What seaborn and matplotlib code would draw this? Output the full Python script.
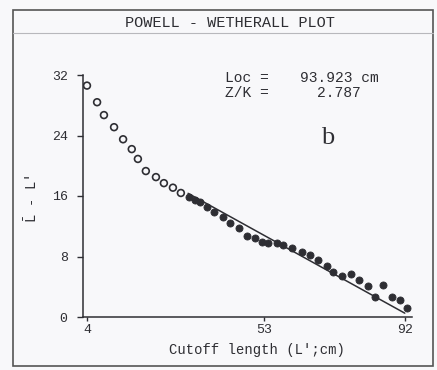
import matplotlib
matplotlib.use("Agg")
import matplotlib.pyplot as plt
import seaborn as sns
import pandas as pd

# ---- data ----
open_x = [4.0, 6.8, 8.7, 11.5, 14.0, 16.4, 18.1, 20.3, 23.1, 25.3, 27.8, 30.0]
open_y = [30.6, 28.4, 26.7, 25.1, 23.5, 22.2, 20.9, 19.3, 18.5, 17.7, 17.1, 16.4]

filled_x = [32.3, 33.9, 35.3, 37.2, 39.2, 41.7, 43.6, 46.1, 48.3, 50.5, 52.5, 54.1,
            56.6, 58.3, 60.8, 63.6, 65.8, 68.0, 70.5, 72.1, 74.6, 77.1, 79.3, 81.8,
            83.8, 86.0, 88.5, 90.7, 92.6]
filled_y = [15.9, 15.5, 15.2, 14.6, 13.9, 13.2, 12.4, 11.8, 10.7, 10.4, 9.9, 9.8,
            9.8, 9.5, 9.1, 8.6, 8.2, 7.5, 6.7, 6.0, 5.4, 5.7, 4.9, 4.1,
            2.6, 4.2, 2.6, 2.2, 1.2]

loc_cm = 93.923
z_over_k = 2.787
fit_x = [32.0, 92.0]
x_ticks = [4, 53, 92]
y_ticks = [0, 8, 16, 24, 32]

# regression line implied by Loc and Z/K
slope = -1.0 / (1.0 + z_over_k)
fit_y = [slope * (v - loc_cm) for v in fit_x]

ink = "#2e2e33"
bg = "#f8f8fa"
mono = ["Liberation Mono", "DejaVu Sans Mono"]

sns.set_theme(style="white")
plt.rcParams["font.family"] = mono
plt.rcParams["mathtext.fontset"] = "custom"
plt.rcParams["mathtext.rm"] = "Liberation Mono"
plt.rcParams["mathtext.it"] = "Liberation Mono"

fig = plt.figure(figsize=(4.37, 3.70), dpi=100)
fig.patch.set_facecolor(bg)

W, H = 437.0, 370.0
def fx(px):
    return px / W
def fy(py):
    return 1 - py / H

# outer frame and title separator
fig.add_artist(plt.Rectangle((fx(13), fy(366)), 420 / W, 356 / H,
                             transform=fig.transFigure, fill=False,
                             edgecolor="#555555", linewidth=1.2))
fig.add_artist(plt.Line2D([fx(13), fx(433)], [fy(33), fy(33)],
                          transform=fig.transFigure, color="#b8b8bc", linewidth=0.8))
fig.text(fx(230), fy(23), "POWELL - WETHERALL PLOT", ha="center", va="center",
         fontsize=11, color=ink, family=mono)

ax = fig.add_axes([fx(83), fy(317), 329 / W, 242 / H])
ax.set_facecolor(bg)

df_open = pd.DataFrame({"x": open_x, "y": open_y})
df_fill = pd.DataFrame({"x": filled_x, "y": filled_y})
df_fit = pd.DataFrame({"x": fit_x, "y": fit_y})

sns.lineplot(data=df_fit, x="x", y="y", ax=ax, color=ink, linewidth=1.1)
sns.scatterplot(data=df_open, x="x", y="y", ax=ax, marker="o", s=24,
                facecolor="none", edgecolor=ink, linewidth=1.2)
sns.scatterplot(data=df_fill, x="x", y="y", ax=ax, marker="o", s=26,
                color=ink, edgecolor=ink, linewidth=0.6)

ax.set_xlim(2.9, 94.0)
ax.set_ylim(0, 32)
ax.set_xticks(x_ticks)
ax.set_yticks(y_ticks)
ax.set_xticklabels([str(t) for t in x_ticks])
ax.set_yticklabels([str(t) for t in y_ticks])
for s in ["top", "right"]:
    ax.spines[s].set_visible(False)
for s in ["left", "bottom"]:
    ax.spines[s].set_color(ink)
    ax.spines[s].set_linewidth(1.1)
ax.tick_params(axis="y", direction="out", length=4, width=1, color=ink,
               labelsize=9.5, labelcolor=ink, pad=7, left=True)
ax.tick_params(axis="x", direction="out", length=3, width=1, color=ink,
               labelsize=9.5, labelcolor=ink, pad=2, bottom=True)

ax.set_xlabel("Cutoff length (L';cm)", fontsize=10, color=ink)
ax.xaxis.set_label_coords((257 - 83) / 329, -(343 - 317) / 242)
ax.set_ylabel("$\\bar{\\mathrm{L}}$ - L'", fontsize=10, color=ink)
ax.yaxis.set_label_coords(-(83 - 40) / 329, (317 - 199) / 242)

# annotation block (pieces placed to match the wide printer spacing)
def at(px, py):
    return ((px - 83) / 329, (317 - py) / 242)

ax.text(*at(225, 78), "Loc =", transform=ax.transAxes, fontsize=10.5, color=ink,
        va="center", ha="left")
ax.text(*at(300, 78), "93.923 cm", transform=ax.transAxes, fontsize=10.5, color=ink,
        va="center", ha="left")
ax.text(*at(225, 93), "Z/K =", transform=ax.transAxes, fontsize=10.5, color=ink,
        va="center", ha="left")
ax.text(*at(317, 93), "2.787", transform=ax.transAxes, fontsize=10.5, color=ink,
        va="center", ha="left")
ax.text(*at(328, 138), "b", transform=ax.transAxes, fontsize=19, color=ink,
        va="center", ha="center", family=["Liberation Serif", "DejaVu Serif"])

fig.savefig("out.png", dpi=100, facecolor=bg)
